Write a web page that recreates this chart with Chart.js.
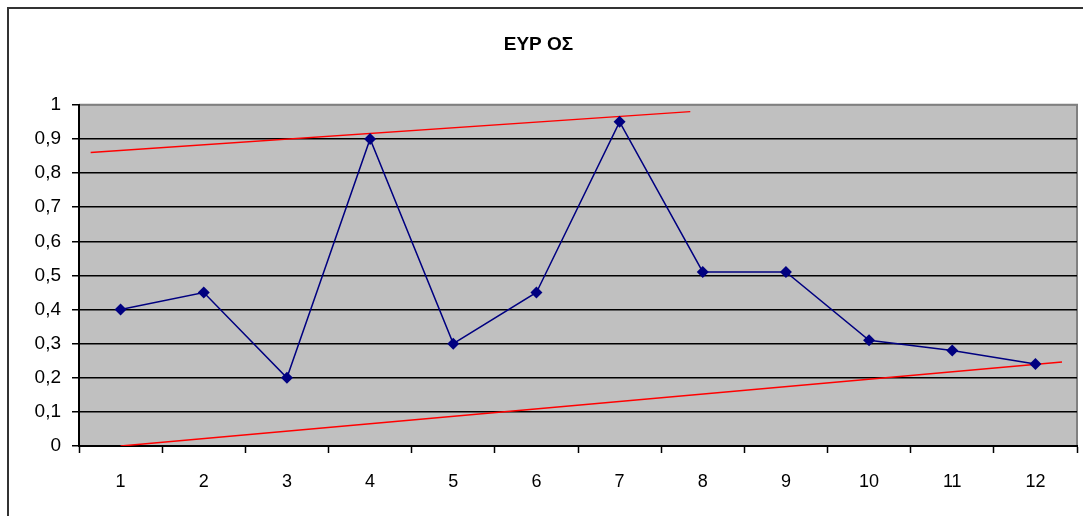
<!DOCTYPE html>
<html>
<head>
<meta charset="utf-8">
<script src="https://cdn.jsdelivr.net/npm/chart.js@4"></script>
<style>
  html, body { margin: 0; padding: 0; background: #fff; }
  #wrap { width: 1083px; height: 516px; position: relative; }
</style>
</head>
<body>
<div id="wrap"><canvas id="chart" width="1083" height="516"></canvas></div>
<script>
// values
const categories = ['1','2','3','4','5','6','7','8','9','10','11','12'];
const values = [0.4, 0.45, 0.2, 0.9, 0.3, 0.45, 0.95, 0.51, 0.51, 0.31, 0.28, 0.24];
// hand-drawn red trend lines (x in category units)
const upperTrendX = [0.64, 7.85];
const upperTrendY = [0.86, 0.98];
const lowerTrendX = [1, 12.32];
const lowerTrendY = [0, 0.246];
const yTicks = [0, 0.1, 0.2, 0.3, 0.4, 0.5, 0.6, 0.7, 0.8, 0.9, 1];

const toPoints = (xs, ys) => xs.map((x, i) => ({x: x, y: ys[i]}));

// frame around the whole chart + grey plot area
const frame = {
  id: 'frame',
  beforeDraw(chart) {
    const c = chart.ctx, a = chart.chartArea;
    c.save();
    c.fillStyle = '#fff';
    c.fillRect(0, 0, chart.width, chart.height);
    c.strokeStyle = '#333';
    c.lineWidth = 2;
    c.beginPath();
    c.moveTo(8, chart.height);
    c.lineTo(8, 8);
    c.lineTo(chart.width, 8);
    c.stroke();
    c.fillStyle = '#c0c0c0';
    c.fillRect(a.left, a.top, a.right - a.left, a.bottom - a.top);
    c.strokeStyle = '#808080';
    c.lineWidth = 2;
    c.beginPath();
    c.moveTo(a.left, a.top);
    c.lineTo(a.right, a.top);
    c.lineTo(a.right, a.bottom);
    c.stroke();
    c.restore();
  }
};

new Chart(document.getElementById('chart'), {
  type: 'line',
  data: {
    datasets: [
      {
        data: toPoints(categories.map(Number), values),
        borderColor: '#000080',
        backgroundColor: '#000080',
        borderWidth: 1.5,
        pointStyle: 'rectRot',
        pointRadius: 6,
        pointBorderWidth: 0,
        tension: 0
      },
      {
        data: toPoints(upperTrendX, upperTrendY),
        borderColor: '#ff0000',
        borderWidth: 1.5,
        pointRadius: 0
      },
      {
        data: toPoints(lowerTrendX, lowerTrendY),
        borderColor: '#ff0000',
        borderWidth: 1.5,
        pointRadius: 0
      }
    ]
  },
  options: {
    responsive: false,
    animation: false,
    layout: { padding: { left: 0, right: 6, top: 0, bottom: 0 } },
    plugins: {
      legend: { display: false },
      tooltip: { enabled: false },
      title: {
        display: true,
        text: 'ΕΥΡ ΟΣ',
        color: '#000',
        font: { family: 'Liberation Sans', size: 19, weight: 'bold' },
        padding: { top: 33, bottom: 49 }
      }
    },
    scales: {
      x: {
        type: 'linear',
        min: 0.5,
        max: categories.length + 0.5,
        afterBuildTicks(axis) {
          const t = [];
          for (let i = 0; i < categories.length; i++) {
            t.push({value: i + 0.5});
            t.push({value: i + 1});
          }
          t.push({value: categories.length + 0.5});
          axis.ticks = t;
        },
        afterFit(axis) {
          axis.height = 70;
          axis.paddingLeft = 0;
          axis.paddingRight = 0;
        },
        ticks: {
          autoSkip: false,
          maxRotation: 0,
          padding: 18,
          color: '#000',
          font: { family: 'Liberation Sans', size: 18 },
          callback: v => Number.isInteger(v) ? categories[v - 1] : ''
        },
        grid: {
          drawOnChartArea: false,
          tickLength: 7,
          tickWidth: 1.5,
          tickColor: ctx => Number.isInteger(ctx.tick.value) ? 'rgba(0,0,0,0)' : '#000'
        },
        border: { color: '#000', width: 2 }
      },
      y: {
        min: 0,
        max: 1,
        afterBuildTicks(axis) { axis.ticks = yTicks.map(v => ({value: v})); },
        afterFit(axis) { axis.width = 79; },
        ticks: {
          padding: 11,
          color: '#000',
          font: { family: 'Liberation Sans', size: 19 },
          callback: v => String(Math.round(v * 10) / 10).replace('.', ',')
        },
        grid: {
          color: ctx => ctx.tick && ctx.tick.value === 1 ? '#808080' : '#000',
          lineWidth: 1.5,
          tickLength: 7,
          tickColor: '#000'
        },
        border: { color: '#000', width: 2 }
      }
    }
  },
  plugins: [frame]
});
</script>
</body>
</html>
